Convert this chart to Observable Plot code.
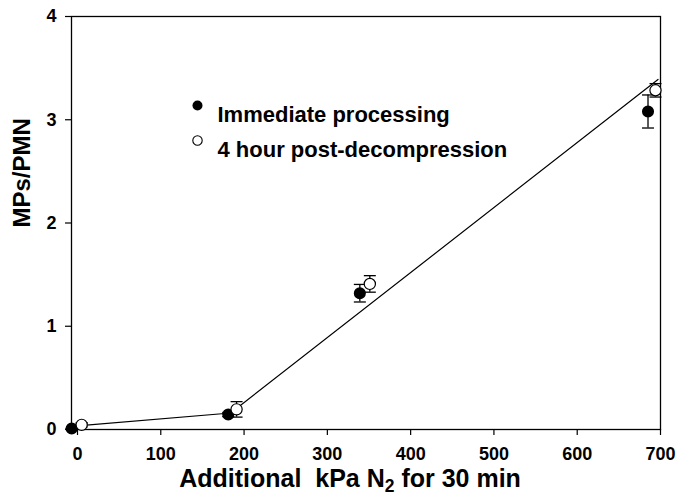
<!DOCTYPE html>
<html><head><meta charset="utf-8">
<script src="https://cdn.jsdelivr.net/npm/d3@7"></script>
<script src="https://cdn.jsdelivr.net/npm/@observablehq/plot@0.6"></script>
<style>
body{margin:0;background:#fff;}
#chart{width:680px;height:500px;}
</style>
</head><body><div id="chart"></div>
<script>
// Immediate processing (filled)
const immX = [-7, 181, 339, 685];
const immY = [0.01, 0.145, 1.32, 3.08];
const immErr = [0.0, 0.02, 0.085, 0.16];
// 4 hour post-decompression (open)
const postX = [5, 191, 351, 694];
const postY = [0.045, 0.195, 1.41, 3.285];
const postErr = [0.02, 0.075, 0.08, 0.065];
// fitted line vertices
const lineX = [0, 184, 697];
const lineY = [0.035, 0.16, 3.39];
const xTicks = [0, 100, 200, 300, 400, 500, 600, 700];
const yTicks = [0, 1, 2, 3, 4];
const legendLabels = ["Immediate processing", "4 hour post-decompression"];
const xLabel = "Additional\u00a0 kPa N2 for 30 min";
const yLabel = "MPs/PMN";

const imm = immX.map((x, i) => ({x, y: immY[i], lo: immY[i] - immErr[i], hi: immY[i] + immErr[i]}));
const post = postX.map((x, i) => ({x, y: postY[i], lo: postY[i] - postErr[i], hi: postY[i] + postErr[i]}));
const fit = lineX.map((x, i) => ({x, y: lineY[i]}));

const capSymbol = {
  draw(context, size) {
    const w = Math.sqrt(size / Math.PI);
    context.moveTo(-w, 0);
    context.lineTo(w, 0);
  }
};

const font = "'Liberation Sans', Arial, sans-serif";

const errMarks = (data) => [
  Plot.ruleX(data, {x: "x", y1: "lo", y2: "hi", stroke: "#000", strokeWidth: 1.3}),
  Plot.dot(data, {x: "x", y: "lo", symbol: capSymbol, r: 6, stroke: "#000", strokeWidth: 1.3}),
  Plot.dot(data, {x: "x", y: "hi", symbol: capSymbol, r: 6, stroke: "#000", strokeWidth: 1.3})
];

const chart = Plot.plot({
  width: 680,
  height: 500,
  marginLeft: 71,
  marginRight: 20,
  marginTop: 16,
  marginBottom: 71,
  style: {fontFamily: font, background: "#fff", color: "#000"},
  x: {domain: [-7.2, 700]},
  y: {domain: [0, 4]},
  marks: [
    Plot.axisX({ticks: xTicks, tickFormat: d3.format("d"), tickSize: 6, tickPadding: 12, fontSize: 18, fontWeight: "bold", label: null, strokeWidth: 1.2}),
    Plot.axisY({ticks: yTicks, tickFormat: d3.format("d"), tickSize: 6, tickPadding: 9, fontSize: 18, fontWeight: "bold", label: null, strokeWidth: 1.2}),
    Plot.frame({stroke: "#000", strokeWidth: 1.3}),
    Plot.line(fit, {x: "x", y: "y", stroke: "#000", strokeWidth: 1.2}),
    ...errMarks(imm),
    ...errMarks(post),
    Plot.dot(imm, {x: "x", y: "y", r: 5.3, fill: "#000", stroke: "#000"}),
    Plot.dot(post, {x: "x", y: "y", r: 5.6, fill: "#fff", stroke: "#000", strokeWidth: 1.2}),
    // legend
    Plot.dot([legendLabels[0]], {frameAnchor: "top-left", dx: 126, dy: 89, r: 5, fill: "#000"}),
    Plot.dot([legendLabels[1]], {frameAnchor: "top-left", dx: 126, dy: 124, r: 4.7, fill: "#fff", stroke: "#000", strokeWidth: 1.1}),
    Plot.text([legendLabels[0]], {frameAnchor: "top-left", dx: 146, dy: 90, text: d => d, textAnchor: "start", fontSize: 22, fontWeight: "bold", fill: "#000"}),
    Plot.text([legendLabels[1]], {frameAnchor: "top-left", dx: 146, dy: 124.5, text: d => d, textAnchor: "start", fontSize: 22, fontWeight: "bold", fill: "#000"}),
    // axis labels
    Plot.text([xLabel], {frameAnchor: "bottom", dx: -16, dy: 57, text: d => d, fontSize: 25, fontWeight: "bold", fill: "#000"}),
    Plot.text([yLabel], {frameAnchor: "left", dx: -49, dy: 4.5, rotate: -90, text: d => d, fontSize: 24, fontWeight: "bold", fill: "#000"})
  ]
});

document.getElementById("chart").appendChild(chart);

// subscript in x label
d3.select(chart).selectAll("text").filter(function() { return this.textContent === xLabel; }).each(function() {
  const t = d3.select(this);
  t.text(null);
  t.append("tspan").text("Additional\u00a0 kPa N");
  t.append("tspan").attr("baseline-shift", "-25%").attr("font-size", "70%").text("2");
  t.append("tspan").text(" for 30 min");
});
</script>
</body></html>
